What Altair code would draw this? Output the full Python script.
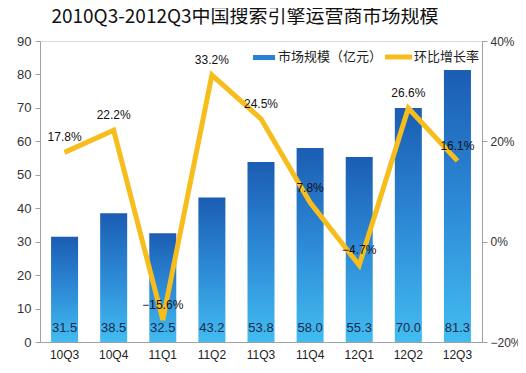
import altair as alt
import pandas as pd

quarters = ["10Q3", "10Q4", "11Q1", "11Q2", "11Q3", "11Q4", "12Q1", "12Q2", "12Q3"]
market = [31.5, 38.5, 32.5, 43.2, 53.8, 58.0, 55.3, 70.0, 81.3]
growth = [0.178, 0.222, -0.156, 0.332, 0.245, 0.078, -0.047, 0.266, 0.161]

title_text = "2010Q3-2012Q3中国搜索引擎运营商市场规模"
legend_bar = ["市场规模（亿元）"]
legend_line = ["环比增长率"]

df = pd.DataFrame({"q": quarters, "m": market, "g": growth})
leg1 = pd.DataFrame({"t": legend_bar})
leg2 = pd.DataFrame({"t": legend_line})

NUM_FONT = "Liberation Sans"
CJK_FONT = "Noto Sans CJK SC"
YELLOW = "#f6bd1c"

x = alt.X("q:N", sort=quarters, title=None,
          scale=alt.Scale(paddingInner=0.45, paddingOuter=0.225),
          axis=alt.Axis(labelAngle=0, ticks=False, labelPadding=7, labelFontSize=12,
                        labelFont=NUM_FONT, labelColor="#222", domainColor="#a0a0a0"))

left_scale = alt.Scale(domain=[0, 90], nice=False)
left_axis = alt.Axis(values=list(range(0, 91, 10)), grid=False, tickSize=5,
                     labelPadding=4, labelFontSize=13, labelFont=NUM_FONT,
                     labelColor="#333", domainColor="#a0a0a0", tickColor="#a0a0a0")

right_scale = alt.Scale(domain=[-0.2, 0.4], nice=False)
right_axis = alt.Axis(orient="right", values=[-0.2, 0, 0.2, 0.4], format=".0%",
                      grid=False, tickSize=5, labelPadding=3, labelFontSize=12,
                      labelFont=NUM_FONT, labelColor="#333",
                      domainColor="#a0a0a0", tickColor="#a0a0a0")

grad = alt.Gradient(gradient="linear", x1=0, x2=0, y1=0, y2=1,
                    stops=[alt.GradientStop(color="#1b5db3", offset=0),
                           alt.GradientStop(color="#2d8ad6", offset=0.5),
                           alt.GradientStop(color="#42bcf0", offset=1)])

base = alt.Chart(df).transform_calculate(zero="0")

bars = base.mark_bar(color=grad).encode(
    x=x, y=alt.Y("m:Q", title=None, scale=left_scale, axis=left_axis))
bar_labels = base.mark_text(dy=-14, fontSize=13, font=NUM_FONT, color="#1c2a4c").encode(
    x=x, y=alt.Y("zero:Q", title=None, scale=left_scale, axis=left_axis),
    text=alt.Text("m:Q", format=".1f"))

leg_rect = alt.Chart(leg1).mark_rect(color="#2a80d2").encode(
    x=alt.value(213), x2=alt.value(235), y=alt.value(14), y2=alt.value(19))
leg_text1 = alt.Chart(leg1).mark_text(align="left", baseline="middle", fontSize=13,
                                      font=CJK_FONT, color="#222").encode(
    x=alt.value(238), y=alt.value(16), text="t:N")
leg_line = alt.Chart(leg2).mark_rule(color=YELLOW, strokeWidth=5).encode(
    x=alt.value(345), x2=alt.value(372), y=alt.value(16))
leg_text2 = alt.Chart(leg2).mark_text(align="left", baseline="middle", fontSize=13,
                                      font=CJK_FONT, color="#222").encode(
    x=alt.value(374), y=alt.value(16), text="t:N")

line = base.mark_line(color=YELLOW, strokeWidth=5, strokeJoin="miter").encode(
    x=x, y=alt.Y("g:Q", title=None, scale=right_scale, axis=right_axis))
line_labels = base.mark_text(dy=-15, fontSize=12, font=NUM_FONT, color="#111").encode(
    x=x, y=alt.Y("g:Q", title=None, scale=right_scale, axis=right_axis),
    text=alt.Text("g:Q", format=".1%"))

left = alt.layer(bars, bar_labels)
right = alt.layer(line, line_labels, leg_rect, leg_text1, leg_line, leg_text2)

chart = alt.layer(left, right).resolve_scale(y="independent").properties(
    width=442, height=301,
    autosize=alt.AutoSizeParams(type="none"),
    padding={"left": 32, "top": 33, "right": 36, "bottom": 20},
    title=alt.TitleParams(title_text, font=CJK_FONT, fontSize=19, fontWeight="normal",
                          color="#111", anchor="middle", dx=-16, offset=8,
                          frame="group"),
).configure_view(stroke=None).configure(background="white")

chart.save("out.html", embed_options={"renderer": "svg", "actions": False})
